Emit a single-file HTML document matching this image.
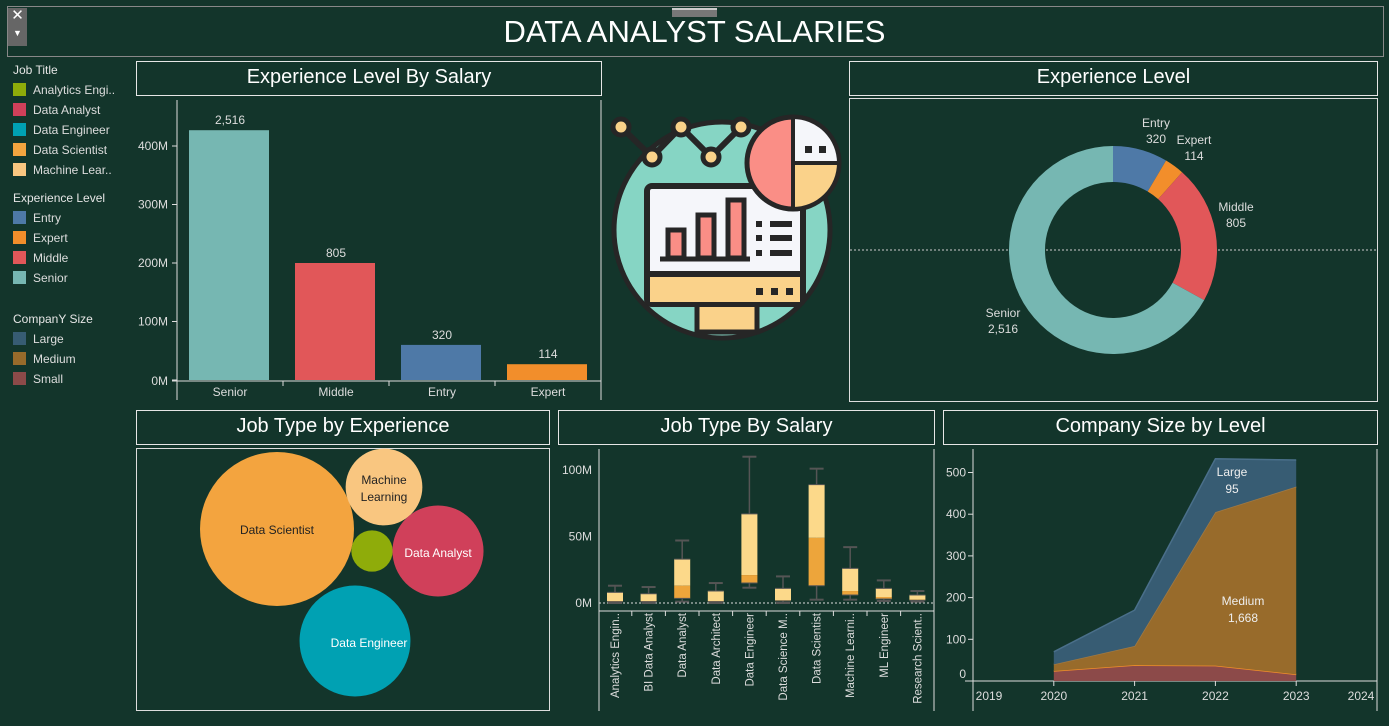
<!DOCTYPE html>
<html><head><meta charset="utf-8"><style>
body{margin:0;width:1389px;height:726px;background:#13352b;overflow:hidden;font-family:"Liberation Sans",sans-serif;color:#e8e8e8;position:relative}
.abs{position:absolute}
.tbox{position:absolute;border:1.5px solid #e6e6e6;box-sizing:border-box;text-align:center;color:#fff;font-size:20px;line-height:31px}
.leg{position:absolute;left:13px;font-size:12px;color:#ddd}
.leg div{height:20px;line-height:20px}
.sw{display:inline-block;width:13px;height:13px;vertical-align:-2px;margin-right:7px}
.lt{font-size:12px;color:#e6e6e6}
svg text{font-family:"Liberation Sans",sans-serif}
</style></head><body>
<div class="abs" style="left:7px;top:6px;width:1377px;height:51px;border:1.5px solid #888;box-sizing:border-box"></div>
<div class="abs" style="left:0;top:14px;width:1389px;text-align:center;font-size:31px;color:#fff">DATA ANALYST SALARIES</div>
<div class="abs" style="left:8px;top:8px;width:19px;height:38px;background:#666;color:#fff;font-size:15px;text-align:center;line-height:16px">✕<br><span style="font-size:9px">▼</span></div>
<div class="abs" style="left:672px;top:8px;width:45px;height:9px;background:#777;border-top:2px solid #ccc;box-sizing:border-box"></div>

<div class="leg" style="top:60px">
<div class="lt">Job Title</div>
<div><span class="sw" style="background:#8fac0a"></span>Analytics Engi..</div>
<div><span class="sw" style="background:#d0405a"></span>Data Analyst</div>
<div><span class="sw" style="background:#00a1b3"></span>Data Engineer</div>
<div><span class="sw" style="background:#f3a43f"></span>Data Scientist</div>
<div><span class="sw" style="background:#f9c680"></span>Machine Lear..</div>
</div>
<div class="leg" style="top:188px">
<div class="lt">Experience Level</div>
<div><span class="sw" style="background:#4e79a7"></span>Entry</div>
<div><span class="sw" style="background:#f28e2b"></span>Expert</div>
<div><span class="sw" style="background:#e15759"></span>Middle</div>
<div><span class="sw" style="background:#76b7b2"></span>Senior</div>
</div>
<div class="leg" style="top:309px">
<div class="lt">CompanY Size</div>
<div><span class="sw" style="background:#375c73"></span>Large</div>
<div><span class="sw" style="background:#986b2b"></span>Medium</div>
<div><span class="sw" style="background:#8c4a49"></span>Small</div>
</div>

<div class="tbox" style="left:136px;top:61px;width:466px;height:35px">Experience Level By Salary</div>
<div class="tbox" style="left:849px;top:61px;width:529px;height:35px">Experience Level</div>
<div class="tbox" style="left:136px;top:410px;width:414px;height:35px">Job Type by Experience</div>
<div class="tbox" style="left:558px;top:410px;width:377px;height:35px">Job Type By Salary</div>
<div class="tbox" style="left:943px;top:410px;width:435px;height:35px">Company Size by Level</div>

<svg class="abs" style="left:0;top:0" width="1389" height="726">
<g id="bar"></g><g id="donut"></g><g id="icon"></g><g id="bubble"></g><g id="box"></g><g id="area"></g>
</svg>
<script>
const NS="http://www.w3.org/2000/svg";
function mk(p,t,a,txt){const e=document.createElementNS(NS,t);for(const k in a)e.setAttribute(k,a[k]);if(txt!=null)e.textContent=txt;p.appendChild(e);return e;}

// ---- bar chart data
const barCats=["Senior","Middle","Entry","Expert"];
const barSalaryM=[427,200,60,27];
const barCounts=["2,516","805","320","114"];
const barTicks=[0,100,200,300,400];
const barColors=["#76b7b2","#e15759","#4e79a7","#f28e2b"];
// ---- donut data
const donutCats=["Entry","Expert","Middle","Senior"];
const donutVals=[320,114,805,2516];
// ---- bubble data
const bubbleNames=["Data Scientist","Machine Learning","Analytics Engineer","Data Analyst","Data Engineer"];
const bubbleVals=[1664,413,120,582,863];
// ---- box data
const boxCats=["Analytics Engin..","BI Data Analyst","Data Analyst","Data Architect","Data Engineer","Data Science M..","Data Scientist","Machine Learni..","ML Engineer","Research Scient.."];
const boxLow=[0,0,1,0,11.5,0,2.5,2.5,1.5,1];
const boxQ1=[1,1,3.5,1,15,1.5,13,6,3,2];
const boxMed=[1.5,1.5,13,1.5,21,2,49,9,4.5,2.5];
const boxQ3=[8,7,33,9,67,11,89,26,11,6];
const boxHigh=[13,12,47,15,110,20,101,42,17,9];
const boxTicks=[0,50,100];
// ---- area data
const years=[2020,2021,2022,2023];
const smallVals=[24,38,37,16];
const mediumVals=[16,46,368,450];
const largeVals=[30,86,128,64];
const areaTicks=[0,100,200,300,400,500];
const yearTicks=[2019,2020,2021,2022,2023,2024];

// BAR
(function(){
 const g=document.getElementById("bar");
 const y=v=>380-v*0.585, bx=i=>177+i*106;
 mk(g,"line",{x1:177,y1:100,x2:177,y2:400,stroke:"#ddd"});
 mk(g,"line",{x1:601,y1:100,x2:601,y2:400,stroke:"#ddd"});
 mk(g,"line",{x1:172,y1:381,x2:601,y2:381,stroke:"#ddd"});
 barTicks.forEach(t=>{mk(g,"line",{x1:172,x2:177,y1:y(t),y2:y(t),stroke:"#ddd"});
  const e=mk(g,"text",{x:168,y:y(t)+4-(t==0?-1:0),"text-anchor":"end","font-size":12,fill:"#ddd"},t+"M");});
 barCats.forEach((c,i)=>{
  const r=mk(g,"rect",{x:bx(i)+12,y:y(barSalaryM[i]),width:80,height:380-y(barSalaryM[i]),fill:barColors[i]});
  
  mk(g,"text",{x:bx(i)+53,y:y(barSalaryM[i])-6,"text-anchor":"middle","font-size":12,fill:"#ddd"},barCounts[i]);
  mk(g,"text",{x:bx(i)+53,y:396,"text-anchor":"middle","font-size":12,fill:"#ddd"},c);
  if(i>0)mk(g,"line",{x1:bx(i),x2:bx(i),y1:381,y2:386,stroke:"#ddd"});
 });
})();

// DONUT
(function(){
 const g=document.getElementById("donut");
 mk(g,"rect",{x:849.5,y:98.5,width:528,height:303,fill:"none",stroke:"#ddd"});
 mk(g,"line",{x1:850,x2:1377,y1:250,y2:250,stroke:"#ccc","stroke-dasharray":"2,2"});
 const cx=1113,cy=250,R=104,r=68,cols=["#4e79a7","#f28e2b","#e15759","#76b7b2"];
 const tot=donutVals.reduce((a,b)=>a+b,0);let a0=0;
 const P=(rad,a)=>[cx+rad*Math.sin(a),cy-rad*Math.cos(a)];
 donutVals.forEach((v,i)=>{
  const a1=a0+v/tot*2*Math.PI,l=(a1-a0)>Math.PI?1:0;
  const p1=P(R,a0),p2=P(R,a1),p3=P(r,a1),p4=P(r,a0);
  const s=mk(g,"path",{d:`M${p1}A${R},${R} 0 ${l} 1 ${p2}L${p3}A${r},${r} 0 ${l} 0 ${p4}Z`,fill:cols[i]});
  
  a0=a1;
 });
 const lab=[[1156,127,"Entry"],[1156,143,"320"],[1194,144,"Expert"],[1194,160,"114"],[1236,211,"Middle"],[1236,227,"805"],[1003,317,"Senior"],[1003,333,"2,516"]];
 lab.forEach(l=>mk(g,"text",{x:l[0],y:l[1],"text-anchor":"middle","font-size":12,fill:"#ddd"},l[2]));
})();

// ICON
(function(){
 const g=document.getElementById("icon");const K="#262626";
 mk(g,"circle",{cx:722,cy:230,r:108,fill:"#86d5c4",stroke:K,"stroke-width":5});
 mk(g,"rect",{x:697,y:302,width:60,height:30,fill:"#fad28a",stroke:K,"stroke-width":5});
 mk(g,"rect",{x:647,y:186,width:156,height:118,rx:5,fill:"#f5f6fa",stroke:K,"stroke-width":6});
 mk(g,"rect",{x:650,y:274,width:150,height:28,fill:"#fad28a"});
 mk(g,"line",{x1:648,x2:802,y1:274,y2:274,stroke:K,"stroke-width":6});
 [[668,230],[698,215],[728,200]].forEach(b=>{mk(g,"rect",{x:b[0],y:b[1],width:16,height:258-b[1],fill:"#fa8e86",stroke:K,"stroke-width":5});});
 mk(g,"line",{x1:660,x2:750,y1:259,y2:259,stroke:K,"stroke-width":5});
 [224,238,253].forEach(yy=>{mk(g,"rect",{x:756,y:yy-3,width:6,height:6,fill:K});mk(g,"rect",{x:770,y:yy-3,width:22,height:6,fill:K});});
 [759,774,789].forEach(xx=>mk(g,"rect",{x:xx-3,y:288,width:7,height:7,fill:K}));
 mk(g,"polyline",{points:"621,127 652,157 681,127 711,157 741,127",fill:"none",stroke:K,"stroke-width":6});
 [[621,127],[652,157],[681,127],[711,157],[741,127]].forEach(p=>mk(g,"circle",{cx:p[0],cy:p[1],r:8,fill:"#fad28a",stroke:K,"stroke-width":5}));
 mk(g,"circle",{cx:793,cy:163,r:46,fill:"#fa8e86",stroke:K,"stroke-width":5});
 mk(g,"path",{d:"M793,117A46,46 0 0 1 839,163L793,163Z",fill:"#f5f6fa",stroke:K,"stroke-width":4});
 mk(g,"path",{d:"M839,163A46,46 0 0 1 793,209L793,163Z",fill:"#fad28a",stroke:K,"stroke-width":4});
 mk(g,"rect",{x:805,y:146,width:7,height:7,fill:K});mk(g,"rect",{x:819,y:146,width:7,height:7,fill:K});
})();

// BUBBLE
(function(){
 const g=document.getElementById("bubble");
 mk(g,"rect",{x:136.5,y:448.5,width:413,height:262,fill:"none",stroke:"#ddd"});
 const pos=[[277,529],[384,487],[372,551],[438,551],[355,641]];
 const cols=["#f3a43f","#f9c680","#8fac0a","#d0405a","#00a1b3"];
 const k=77/Math.sqrt(bubbleVals[0]);
 bubbleNames.forEach((n,i)=>{
  const c=mk(g,"circle",{cx:pos[i][0],cy:pos[i][1],r:k*Math.sqrt(bubbleVals[i]),fill:cols[i]});
  
 });
 const tc=[[277,534,"Data Scientist","#222"],[384,484,"Machine","#222"],[384,501,"Learning","#222"],[438,557,"Data Analyst","#fff"],[369,647,"Data Engineer","#fff"]];
 tc.forEach(t=>mk(g,"text",{x:t[0],y:t[1],"text-anchor":"middle","font-size":12,fill:t[3]},t[2]));
})();

// BOX
(function(){
 const g=document.getElementById("box");
 const y=v=>603-v*1.33, cx=i=>615+i*33.6;
 mk(g,"line",{x1:599,y1:449,x2:599,y2:711,stroke:"#ddd"});
 mk(g,"line",{x1:934,y1:449,x2:934,y2:711,stroke:"#ddd"});
 mk(g,"line",{x1:599,y1:611,x2:934,y2:611,stroke:"#ddd"});
 mk(g,"line",{x1:599,y1:603,x2:934,y2:603,stroke:"#ddd","stroke-dasharray":"2,2"});
 boxTicks.forEach(t=>mk(g,"text",{x:592,y:y(t)+4,"text-anchor":"end","font-size":12,fill:"#ddd"},t+"M"));
 boxCats.forEach((c,i)=>{
  const x=cx(i);
  mk(g,"line",{x1:x,x2:x,y1:y(boxHigh[i]),y2:y(boxLow[i]),stroke:"#555","stroke-width":1.5});
  mk(g,"rect",{x:x-8,y:y(boxQ3[i]),width:16,height:y(boxMed[i])-y(boxQ3[i]),fill:"#fcd98a"});
  mk(g,"rect",{x:x-8,y:y(boxMed[i]),width:16,height:y(boxQ1[i])-y(boxMed[i]),fill:"#eda53b"});
  [boxHigh[i],boxLow[i]].forEach(v=>mk(g,"line",{x1:x-7,x2:x+7,y1:y(v),y2:y(v),stroke:"#555","stroke-width":2}));
  [boxQ3[i],boxQ1[i]].forEach(v=>mk(g,"line",{x1:x-8,x2:x+8,y1:y(v),y2:y(v),stroke:"#555","stroke-width":1}));
  if(i>0)mk(g,"line",{x1:x-16.8,x2:x-16.8,y1:611,y2:616,stroke:"#ddd"});
  const t=mk(g,"text",{x:0,y:0,transform:`translate(${x+4},613) rotate(-90)`,"text-anchor":"end","font-size":11.5,fill:"#ddd"},c);
  
 });
})();

// AREA
(function(){
 const g=document.getElementById("area");
 const y=v=>681-v*0.417, x=yr=>973+(yr-2019)*80.8;
 mk(g,"line",{x1:973,y1:449,x2:973,y2:711,stroke:"#ddd"});
 mk(g,"line",{x1:1377,y1:449,x2:1377,y2:711,stroke:"#ddd"});
 mk(g,"line",{x1:965,y1:681,x2:1377,y2:681,stroke:"#ddd"});
 areaTicks.forEach(t=>{mk(g,"text",{x:966,y:y(t)+(t==0?-3:4),"text-anchor":"end","font-size":12,fill:"#ddd"},t);mk(g,"line",{x1:968,x2:973,y1:y(t),y2:y(t),stroke:"#ddd"});});
 yearTicks.forEach(t=>{mk(g,"text",{x:x(t)+(t==2019?16:t==2024?-16:0),y:700,"text-anchor":"middle","font-size":12,fill:"#ddd"},t);mk(g,"line",{x1:x(t),x2:x(t),y1:681,y2:686,stroke:"#ddd"});});
 let base=years.map(()=>0);
 [[smallVals,"#8c4a49","#f28e2b","small"],[mediumVals,"#986b2b","#a07a45","medium"],[largeVals,"#375c73","#4a6f8a","large"]].forEach(s=>{
  const top=base.map((b,i)=>b+s[0][i]);
  let d="M"+years.map((yr,i)=>x(yr)+","+y(top[i])).join("L");
  d+="L"+years.slice().reverse().map((yr,j)=>x(yr)+","+y(base[years.length-1-j])).join("L")+"Z";
  const p=mk(g,"path",{d:d,fill:s[1]});
  
  mk(g,"polyline",{points:years.map((yr,i)=>x(yr)+","+y(top[i])).join(" "),fill:"none",stroke:s[2],"stroke-width":1.5});
  base=top;
 });
 [[1232,476,"Large"],[1232,493,"95"],[1243,605,"Medium"],[1243,622,"1,668"]].forEach(l=>mk(g,"text",{x:l[0],y:l[1],"text-anchor":"middle","font-size":12,fill:"#eee"},l[2]));
})();
</script>
</body></html>
